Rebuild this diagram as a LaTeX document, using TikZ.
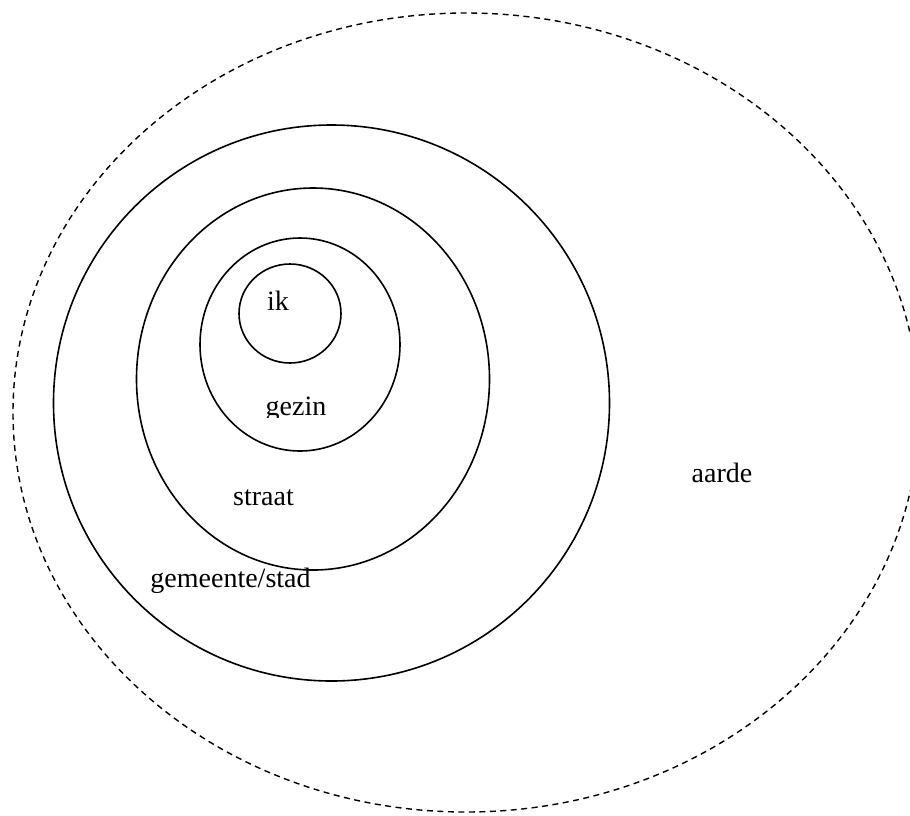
\documentclass[tikz,border=0pt]{standalone}
\usepackage{fontspec}
\setmainfont{Liberation Serif}
\begin{document}
\begin{tikzpicture}[x=1pt,y=-1pt,
  ring/.style={draw=black,line width=1.6pt},
  outer/.style={draw=black,line width=1.4pt,dash pattern=on 6pt off 4.5pt},
  lbl/.style={anchor=base,inner sep=0pt,font=\fontsize{28}{34}\selectfont}]
\useasboundingbox (0,0) rectangle (910,815);
\begin{scope}
\clip (0,0) rectangle (910,815);
\path[outer] (466,412.5) ellipse [x radius=453, y radius=399.5];
\end{scope}
\path[ring] (331.5,403) ellipse [x radius=278, y radius=278];
\path[ring] (313,379) ellipse [x radius=176.5, y radius=191];
\path[ring] (300,344.5) ellipse [x radius=100, y radius=106.5];
\path[ring] (290,313.5) ellipse [x radius=51, y radius=49.5];
\node[lbl] (ik) at (278,310) {ik};
\begin{scope}
\clip (0,0) rectangle (910,417);
\node[lbl] (gezin) at (296,415) {gezin};
\end{scope}
\node[lbl] (straat) at (263.5,505) {straat};
\node[lbl] (gemeente) at (230.5,587) {gemeente/stad};
\node[lbl] (aarde) at (722,482) {aarde};
\end{tikzpicture}
\end{document}
